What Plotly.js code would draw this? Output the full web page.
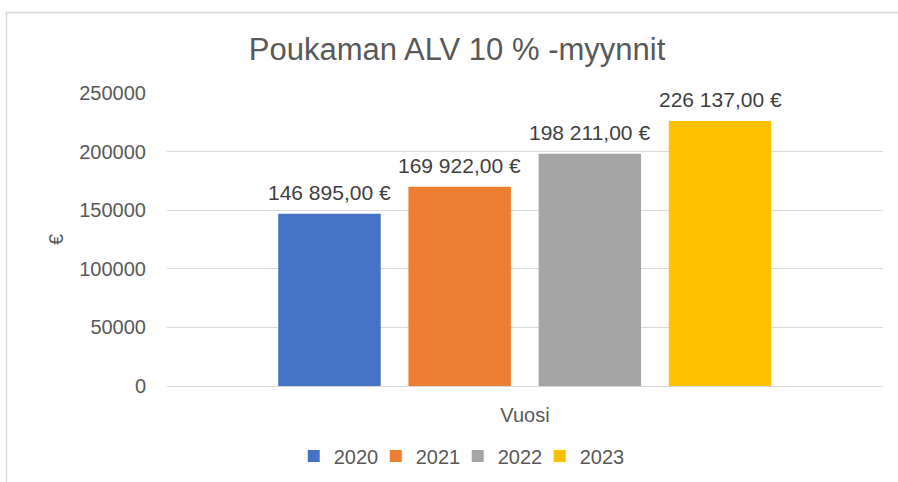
<!DOCTYPE html>
<html>
<head>
<meta charset="utf-8">
<script src="https://cdn.plot.ly/plotly-3.0.1.min.js"></script>
<style>html,body{margin:0;padding:0;background:#fff;}#chart{width:898px;height:482px;}</style>
</head>
<body>
<div id="chart"></div>
<script>
const axisTitleX = "Vuosi";
const axisTitleY = "€";
const seriesNames = ["2020", "2021", "2022", "2023"];
const seriesValues = [146895, 169922, 198211, 226137];
const seriesColors = ["#4472C4", "#ED7D31", "#A5A5A5", "#FFC000"];
const yTickVals = [0, 50000, 100000, 150000, 200000, 250000];

const FONT = "Liberation Sans, Arial, sans-serif";

function fmtEuro(v) {
  const parts = v.toFixed(2).split(".");
  return parts[0].replace(/\B(?=(\d{3})+(?!\d))/g, " ") + "," + parts[1] + " €";
}

const traces = seriesNames.map((name, i) => ({
  type: "bar",
  name: name,
  x: [name],
  y: [seriesValues[i]],
  marker: {color: seriesColors[i], line: {width: 0}},
  hoverinfo: "skip"
}));

// category axis: annotation x given as category index
const annotations = seriesNames.map((name, i) => ({
  xref: "x", yref: "y",
  x: i, y: seriesValues[i],
  text: fmtEuro(seriesValues[i]),
  showarrow: false,
  xanchor: "center", yanchor: "middle",
  yshift: 21,
  font: {family: FONT, size: 21, color: "#404040"}
}));

const layout = {
  width: 898,
  height: 482,
  paper_bgcolor: "#ffffff",
  plot_bgcolor: "#ffffff",
  margin: {l: 167, r: 15, t: 93, b: 96, pad: 0, autoexpand: false},
  font: {family: FONT, color: "#595959"},
  title: {
    text: "Poukaman ALV 10 % -myynnit",
    font: {family: FONT, size: 31, color: "#595959"},
    x: 0.509, xanchor: "center",
    y: 1 - 49 / 482, yanchor: "middle", yref: "container"
  },
  barmode: "overlay",
  bargap: 0.213,
  showlegend: true,
  legend: {
    orientation: "h",
    x: 0.177, xanchor: "left",
    y: -0.239, yanchor: "middle",
    font: {family: FONT, size: 20, color: "#595959"},
    traceorder: "normal",
    entrywidth: 37,
    entrywidthmode: "pixels",
    itemclick: false
  },
  xaxis: {
    type: "category",
    range: [-1.248, 4.252],
    showticklabels: false,
    showgrid: false,
    zeroline: false,
    showline: true,
    linecolor: "#d9d9d9",
    linewidth: 1,
    ticks: "",
    automargin: false,
    title: {text: axisTitleX, font: {family: FONT, size: 20, color: "#595959"}, standoff: 21}
  },
  yaxis: {
    range: [0, 250000],
    tickvals: yTickVals,
    tickformat: "d",
    showgrid: true,
    gridcolor: "#d9d9d9",
    gridwidth: 1,
    zeroline: false,
    showline: false,
    ticks: "outside",
    ticklen: 16,
    tickcolor: "rgba(0,0,0,0)",
    tickfont: {family: FONT, size: 20, color: "#595959"},
    automargin: false,
    title: {text: axisTitleY, font: {family: FONT, size: 20, color: "#595959"}, standoff: 10}
  },
  annotations: annotations,
  shapes: [{
    type: "rect", xref: "paper", yref: "paper",
    x0: (6.5 - 167) / 716, x1: 1.05,
    y0: -0.4, y1: (386 - 12.5) / 293,
    line: {color: "#d9d9d9", width: 1.5},
    fillcolor: "rgba(0,0,0,0)",
    layer: "below"
  }]
};

Plotly.newPlot("chart", traces, layout, {staticPlot: true, displayModeBar: false}).then(function(gd) {
  // let the last legend label show in full (entrywidth narrows the legend clip box)
  gd.querySelectorAll(".legend .scrollbox, .legend").forEach(function(el) {
    el.removeAttribute("clip-path");
    el.style.clipPath = "none";
  });
  gd.querySelectorAll(".legend .bg").forEach(function(el) {
    el.setAttribute("width", "360");
  });
});
</script>
</body>
</html>
